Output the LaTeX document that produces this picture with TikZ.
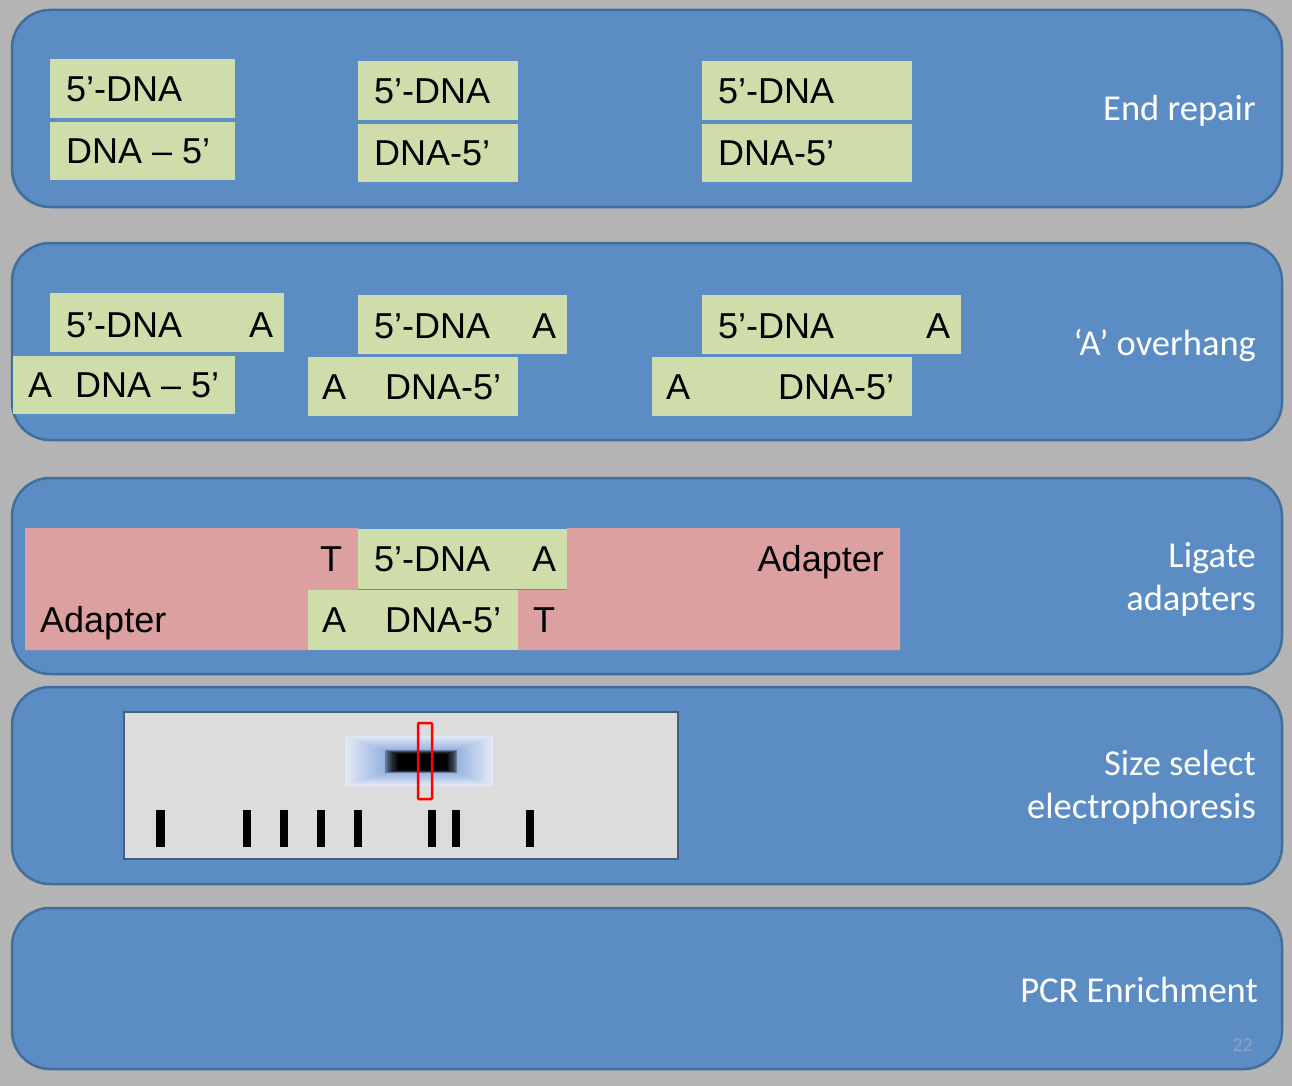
\documentclass[tikz,border=0pt]{standalone}
\usepackage{fontspec}
\setmainfont{Liberation Sans}
\newfontfamily\calfont{Carlito}
\definecolor{bggray}{RGB}{180,180,180}
\definecolor{panelblue}{RGB}{91,141,196}
\definecolor{paneledge}{RGB}{65,110,155}
\definecolor{dnagreen}{RGB}{207,221,170}
\definecolor{adapterpink}{RGB}{221,160,160}
\definecolor{gelgray}{RGB}{220,220,220}
\definecolor{geledge}{RGB}{70,95,125}
\definecolor{bandlight}{RGB}{226,233,246}
\definecolor{bandmid}{RGB}{150,178,224}
\definecolor{pagenum}{RGB}{140,163,192}
\tikzset{
  panel/.style={fill=panelblue, draw=paneledge, line width=2.5pt, rounded corners=38pt},
  dnabox/.style={fill=dnagreen, draw=none},
  adbox/.style={fill=adapterpink, draw=none},
  dnatext/.style={anchor=base west, inner sep=0pt, font=\fontsize{36}{40}\selectfont, text=black},
  steplabel/.style={anchor=base east, inner sep=0pt, font=\calfont\fontsize{36.5}{40}\selectfont, text=white},
  ladder/.style={fill=black, draw=none}
}
\begin{document}
\begin{tikzpicture}[x=1pt,y=-1pt]
\useasboundingbox (0,0) rectangle (1292,1086);
\fill[bggray] (0,0) rectangle (1292,1086);

% panels
\draw[panel] (12,10) rectangle (1282,207);
\draw[panel] (12,243) rectangle (1282,440);
\draw[panel] (12,478) rectangle (1282,674);
\draw[panel] (12,687) rectangle (1282,884);
\draw[panel] (12,908) rectangle (1282,1069);

% ---------- End repair ----------
\fill[dnabox] (50,59) rectangle (235,118);
\fill[dnabox] (50,122) rectangle (235,180);
\fill[dnabox] (358,61) rectangle (518,120);
\fill[dnabox] (358,124) rectangle (518,182);
\fill[dnabox] (702,61) rectangle (912,120);
\fill[dnabox] (702,124) rectangle (912,182);
\node[dnatext] (e1a) at (66,102) {5’-DNA};
\node[dnatext] (e1b) at (66,164) {DNA – 5’};
\node[dnatext] (e2a) at (374,104) {5’-DNA};
\node[dnatext] (e2b) at (374,166) {DNA-5’};
\node[dnatext] (e3a) at (718,104) {5’-DNA};
\node[dnatext] (e3b) at (718,166) {DNA-5’};
\node[steplabel] (l1) at (1256,121) {End repair};

% ---------- A overhang ----------
\fill[dnabox] (50,293) rectangle (284,352);
\fill[dnabox] (13,356) rectangle (235,414);
\fill[dnabox] (358,295) rectangle (567,354);
\fill[dnabox] (308,357) rectangle (518,416);
\fill[dnabox] (702,295) rectangle (961,354);
\fill[dnabox] (652,357) rectangle (912,416);
\node[dnatext] (a1a) at (66,337) {5’-DNA};
\node[dnatext] (a1b) at (249,337) {A};
\node[dnatext] (a1c) at (28,397) {A};
\node[dnatext] (a1d) at (75,397) {DNA – 5’};
\node[dnatext] (a2a) at (374,338) {5’-DNA};
\node[dnatext] (a2b) at (532,338) {A};
\node[dnatext] (a2c) at (322,399) {A};
\node[dnatext] (a2d) at (385,399) {DNA-5’};
\node[dnatext] (a3a) at (718,338) {5’-DNA};
\node[dnatext] (a3b) at (926,338) {A};
\node[dnatext] (a3c) at (666,399) {A};
\node[dnatext] (a3d) at (778,399) {DNA-5’};
\node[steplabel] (l2) at (1256,355) {‘A’ overhang};

% ---------- Ligate adapters ----------
\fill[adbox] (25,528) -- (358,528) -- (358,590) -- (308,590) -- (308,650) -- (25,650) -- cycle;
\fill[adbox] (567,528) -- (900,528) -- (900,650) -- (518,650) -- (518,590) -- (567,590) -- cycle;
\fill[dnabox] (358,529) rectangle (567,589);
\fill[dnabox] (308,590) rectangle (518,650);
\node[dnatext] (g1) at (320,571) {T};
\node[dnatext] (g2) at (374,571) {5’-DNA};
\node[dnatext] (g3) at (532,571) {A};
\node[dnatext, anchor=base east] (g4) at (884,571) {Adapter};
\node[dnatext] (g5) at (40,632) {Adapter};
\node[dnatext] (g6) at (322,632) {A};
\node[dnatext] (g7) at (385,632) {DNA-5’};
\node[dnatext] (g8) at (533,632) {T};
\node[steplabel] (l3a) at (1256,567) {Ligate};
\node[steplabel] (l3b) at (1256,610) {adapters};

% ---------- Size select ----------
\draw[fill=gelgray, draw=geledge, line width=2.5pt] (124,712) rectangle (678,859);
% band with glow
\foreach \i in {0,...,20}{
  \pgfmathsetmacro\t{\i/20}
  \pgfmathsetmacro\p{100*\t}
  \fill[bandmid!\p!bandlight] ({345+\t*(384-345)},{736+\t*(750-736)}) rectangle ({493-\t*(493-458)},{786-\t*(786-773)});
}
\foreach \i in {0,...,10}{
  \pgfmathsetmacro\t{\i/10}
  \pgfmathsetmacro\p{100*sqrt(\t)}
  \fill[black!\p!bandmid] ({384+\t*(398-384)},{750+\t*(754-750)}) rectangle ({458-\t*(458-447)},{773-\t*(773-770)});
}
\draw[red, line width=2.5pt, rounded corners=1pt] (418,723) rectangle (432,799);
\foreach \c in {160.5,246.7,283.7,320.7,357.7,431.7,455.8,529.8}{
  \fill[ladder] ({\c-4.2},810) rectangle ({\c+4.2},847);
}
\node[steplabel] (l4a) at (1256,775) {Size select};
\node[steplabel] (l4b) at (1256,818) {electrophoresis};

% ---------- PCR ----------
\node[steplabel] (l5) at (1258,1002) {PCR Enrichment};
\node[anchor=base east, inner sep=0pt, font=\calfont\fontsize{20}{22}\selectfont, text=pagenum] (pg) at (1253,1051) {22};
\end{tikzpicture}
\end{document}
